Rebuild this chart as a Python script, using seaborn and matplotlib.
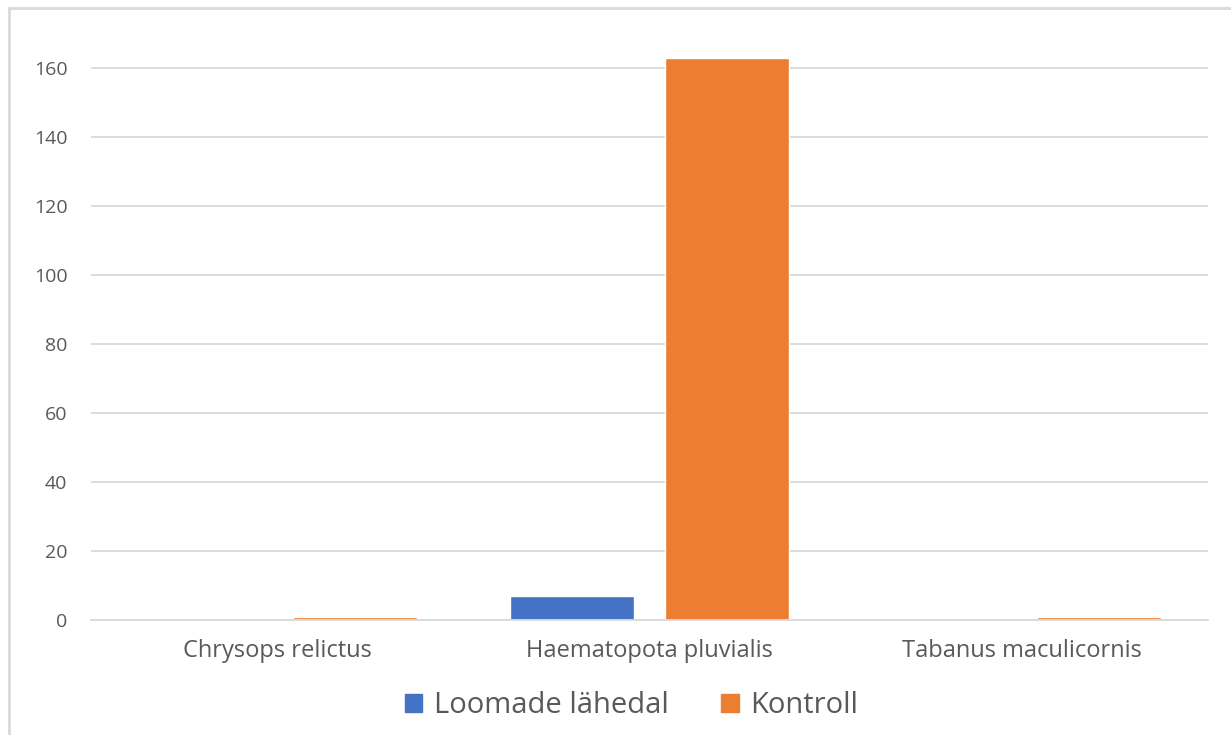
import pandas as pd
import numpy as np
import seaborn as sns
import matplotlib.pyplot as plt
from matplotlib.lines import Line2D

# data
species = ['Chrysops relictus', 'Haematopota pluvialis', 'Tabanus maculicornis']
loomade = [0, 7, 0]
kontroll = [1, 163, 1]
series = ['Loomade lähedal', 'Kontroll']

df = pd.DataFrame({
    'liik': species * 2,
    'arv': loomade + kontroll,
    'grupp': [series[0]] * 3 + [series[1]] * 3,
})

sns.set_theme(style='white')
plt.rcParams['font.family'] = ['Open Sans', 'DejaVu Sans']

fig = plt.figure(figsize=(12.31, 7.35), dpi=100)
ax = fig.add_axes([0.074, 0.1565, 0.907, 0.7975])

sns.barplot(data=df, x='liik', y='arv', hue='grupp', hue_order=series,
            palette={'Loomade lähedal': '#4472C4', 'Kontroll': '#ED7D31'},
            width=0.833, gap=0.2, saturation=1, ax=ax, legend=False)

ax.set_ylim(0, 170)
ax.set_xlim(-0.5, 2.5)
ax.set_yticks(range(0, 161, 20))
ax.yaxis.grid(True, color='#D9D9D9', linewidth=1.3)
ax.set_axisbelow(True)
for s in ['top', 'right', 'left']:
    ax.spines[s].set_visible(False)
ax.spines['bottom'].set_color('#D9D9D9')
ax.spines['bottom'].set_linewidth(1.3)
ax.tick_params(axis='y', length=0, pad=17, labelsize=14, labelcolor='#595959')
ax.tick_params(axis='x', length=0, pad=14, labelsize=17, labelcolor='#595959')
ax.set_xlabel('')
ax.set_ylabel('')

# legend
handles = [plt.Rectangle((0, 0), 1, 1, color='#4472C4'),
           plt.Rectangle((0, 0), 1, 1, color='#ED7D31')]
fig.legend(handles, series, loc='center', bbox_to_anchor=(0.513, 0.04), ncol=2,
           frameon=False, fontsize=21, labelcolor='#595959',
           handlelength=0.6, handleheight=0.6, handletextpad=0.4, columnspacing=1.8)

# chart border
fig.add_artist(Line2D([9 / 1231, 9 / 1231], [0, 1 - 8 / 735], transform=fig.transFigure,
                      color='#D9D9D9', linewidth=2))
fig.add_artist(Line2D([9 / 1231, 1], [1 - 8 / 735, 1 - 8 / 735], transform=fig.transFigure,
                      color='#D9D9D9', linewidth=2))

plt.savefig('out.png', dpi=100)
